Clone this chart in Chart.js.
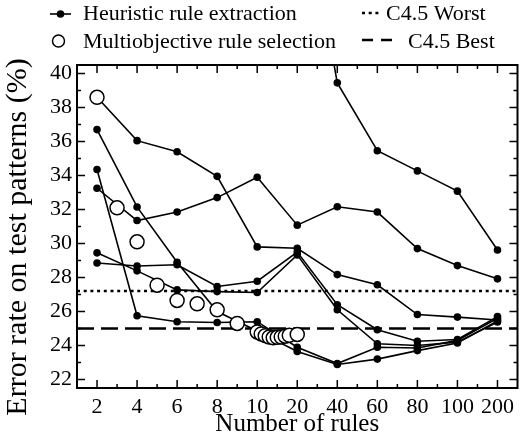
<!DOCTYPE html>
<html>
<head>
<meta charset="utf-8">
<script src="https://cdn.jsdelivr.net/npm/chart.js@4.4.0/dist/chart.umd.min.js"></script>
<style>
  html, body { margin: 0; padding: 0; background: #fff; }
  #wrap { width: 526px; height: 441px; }
</style>
</head>
<body>
<div id="wrap"><canvas id="chart" width="526" height="441"></canvas></div>
<script>
// x axis: evenly spaced categories, counts in between (11..19) sit linearly between 10 and 20
const ruleCounts = [2, 4, 6, 8, 10, 20, 40, 60, 80, 100, 200];
const yTicks = [22, 24, 26, 28, 30, 32, 34, 36, 38, 40];

// heuristic rule extraction, one line per heuristic criterion (null = not shown)
const heurA = [38.6, 36.05, 35.4, 33.95, 29.8, 29.72, 28.17, 27.57, 25.82, 25.67, 25.5];
const heurB = [33.25, 31.35, 31.85, 32.7, 33.9, 31.08, 32.16, 31.85, 29.7, 28.7, 27.92];
const heurC = [null, null, null, null, null, 52.6, 39.45, 35.46, 34.27, 33.08, 29.62];
const heurD = [36.7, 32.15, 28.9, 26.0, 24.85, 23.65, 22.88, 23.2, 23.7, 24.15, 25.45];
const heurE = [34.35, 25.75, 25.4, 25.35, 25.4, 23.9, 22.94, 23.9, 23.85, 24.3, 25.6];
const heurF = [29.45, 28.39, 27.27, 27.17, 27.12, 29.33, 26.1, 24.1, 24.0, 24.2, 25.38];
const heurG = [28.85, 28.68, 28.75, 27.47, 27.78, 29.5, 26.4, 24.93, 24.25, 24.35, 25.7];

// multiobjective rule selection
const moRules = [2, 3, 4, 5, 6, 7, 8, 9, 10, 11, 12, 13, 14, 15, 16, 17, 18, 20];
const moError = [38.6, 32.1, 30.1, 27.55, 26.65, 26.45, 26.1, 25.3, 24.8, 24.68, 24.58, 24.5, 24.45, 24.48, 24.5, 24.55, 24.6, 24.65];

// C4.5 reference levels
const c45Worst = 27.2;
const c45Best = 25.0;

const FONT = '"Liberation Serif", "Times New Roman", serif';

// map a rule count onto the evenly spaced category axis
function xPos(n) {
  for (let i = 0; i < ruleCounts.length - 1; i++) {
    if (n <= ruleCounts[i + 1]) {
      return i + (n - ruleCounts[i]) / (ruleCounts[i + 1] - ruleCounts[i]);
    }
  }
  return ruleCounts.length - 1;
}

function toPoints(values) {
  return values.map((v, i) => ({ x: i, y: v }));
}

const heuristics = [heurA, heurB, heurC, heurD, heurE, heurF, heurG].map(vals => ({
  data: toPoints(vals),
  borderColor: '#000',
  borderWidth: 1.6,
  backgroundColor: '#000',
  pointRadius: 3.8,
  pointBorderWidth: 0,
  tension: 0,
  spanGaps: false,
  order: 2
}));

const xMin = -0.5, xMax = ruleCounts.length - 0.5;

// inward ticks on all four sides, the frame, the y title and the legend
const framePlugin = {
  id: 'frame',
  afterDraw(chart) {
    const { ctx, chartArea: a, scales } = chart;
    ctx.save();
    ctx.strokeStyle = '#000';
    ctx.lineWidth = 1.5;
    ctx.beginPath();
    for (let i = 0; i <= ruleCounts.length - 1; i += 0.5) {
      const px = scales.x.getPixelForValue(i);
      const len = Number.isInteger(i) ? 8 : 4;
      ctx.moveTo(px, a.bottom); ctx.lineTo(px, a.bottom - len);
      ctx.moveTo(px, a.top); ctx.lineTo(px, a.top + len);
    }
    for (let v = 22; v <= 40; v += 1) {
      const py = scales.y.getPixelForValue(v);
      const len = v % 2 === 0 ? 8 : 4;
      ctx.moveTo(a.left, py); ctx.lineTo(a.left + len, py);
      ctx.moveTo(a.right, py); ctx.lineTo(a.right - len, py);
    }
    ctx.stroke();
    ctx.lineWidth = 2;
    ctx.strokeRect(a.left, a.top, a.right - a.left, a.bottom - a.top);

    ctx.fillStyle = '#000';

    // y axis title
    ctx.save();
    ctx.translate(18, 237);
    ctx.rotate(-Math.PI / 2);
    ctx.font = '30px ' + FONT;
    ctx.textAlign = 'center';
    ctx.textBaseline = 'middle';
    ctx.fillText('Error rate on test patterns (%)', 0, 0);
    ctx.restore();

    // legend
    ctx.font = '22px ' + FONT;
    ctx.textBaseline = 'alphabetic';
    ctx.fillText('Heuristic rule extraction', 83, 20);
    ctx.fillText('Multiobjective rule selection', 83, 48);
    ctx.fillText('C4.5 Worst', 386, 20);
    ctx.fillText('C4.5 Best', 408, 48);

    ctx.lineWidth = 1.6;
    ctx.beginPath(); ctx.moveTo(50, 14); ctx.lineTo(71, 14); ctx.stroke();
    ctx.beginPath(); ctx.arc(60.5, 14, 3.8, 0, Math.PI * 2); ctx.fill();
    ctx.lineWidth = 1.5;
    ctx.beginPath(); ctx.arc(58.5, 41, 6, 0, Math.PI * 2); ctx.stroke();

    ctx.lineWidth = 2.5;
    ctx.setLineDash([3, 3.7]);
    ctx.beginPath(); ctx.moveTo(362, 13); ctx.lineTo(381, 13); ctx.stroke();
    ctx.setLineDash([11, 8]);
    ctx.beginPath(); ctx.moveTo(362, 40); ctx.lineTo(398, 40); ctx.stroke();
    ctx.restore();
  }
};

new Chart(document.getElementById('chart'), {
  type: 'line',
  data: {
    datasets: [
      {
        data: moRules.map((n, i) => ({ x: xPos(n), y: moError[i] })),
        showLine: false,
        pointRadius: 7,
        pointBorderWidth: 1.5,
        pointBorderColor: '#000',
        pointBackgroundColor: '#fff',
        order: 0
      },
      ...heuristics,
      {
        data: [{ x: xMin, y: c45Worst }, { x: xMax, y: c45Worst }],
        borderColor: '#000',
        borderWidth: 2.5,
        borderDash: [3, 3.7],
        pointRadius: 0,
        order: 3
      },
      {
        data: [{ x: xMin, y: c45Best }, { x: xMax, y: c45Best }],
        borderColor: '#000',
        borderWidth: 2.5,
        borderDash: [17, 7],
        pointRadius: 0,
        order: 3
      }
    ]
  },
  options: {
    responsive: false,
    animation: false,
    events: [],
    layout: { padding: { top: 65, right: 5, left: 0, bottom: 0 } },
    plugins: { legend: { display: false }, tooltip: { enabled: false } },
    scales: {
      x: {
        type: 'linear',
        min: xMin,
        max: xMax,
        grid: { display: false, drawTicks: false },
        border: { display: false },
        afterBuildTicks: s => { s.ticks = ruleCounts.map((_, i) => ({ value: i })); },
        afterFit: s => { s.height = 53; },
        ticks: {
          color: '#000',
          padding: 6,
          maxRotation: 0,
          autoSkip: false,
          font: { family: FONT, size: 22 },
          callback: v => ruleCounts[v]
        },
        title: {
          display: true,
          text: 'Number of rules',
          color: '#000',
          padding: { top: 0, bottom: 2 },
          font: { family: FONT, size: 25 }
        }
      },
      y: {
        min: 21.5,
        max: 40.5,
        grid: { display: false, drawTicks: false },
        border: { display: false },
        afterBuildTicks: s => { s.ticks = yTicks.map(v => ({ value: v })); },
        afterFit: s => { s.width = 77; },
        ticks: {
          color: '#000',
          padding: 5,
          font: { family: FONT, size: 22 }
        }
      }
    }
  },
  plugins: [framePlugin]
});
</script>
</body>
</html>
